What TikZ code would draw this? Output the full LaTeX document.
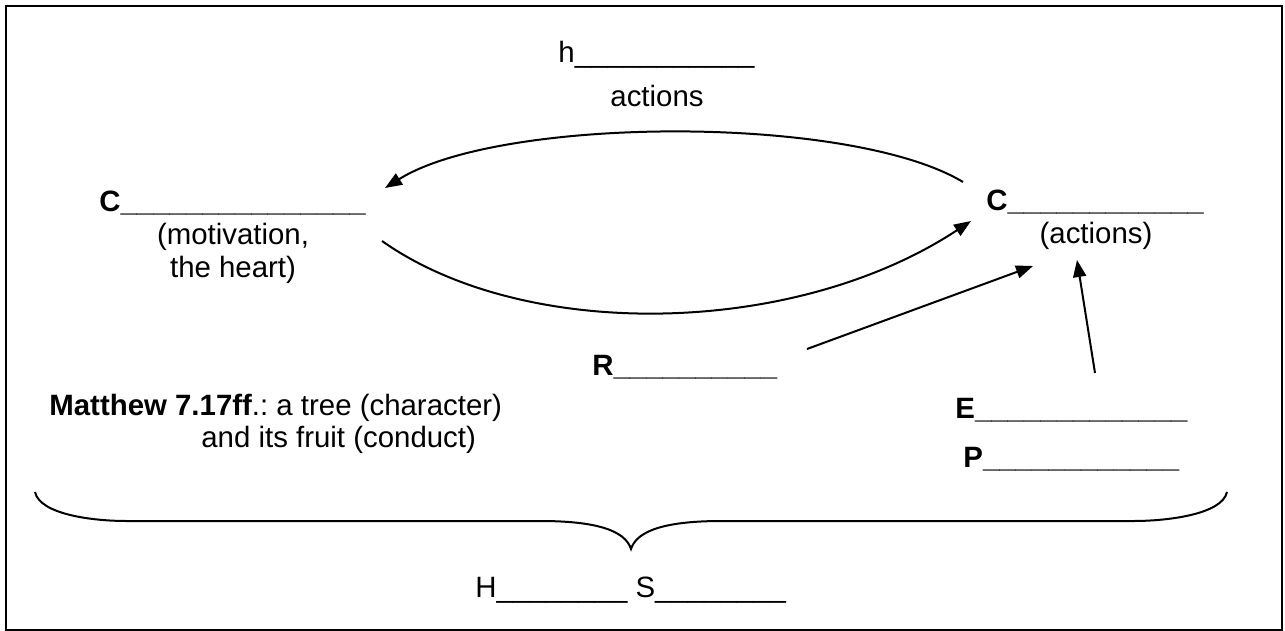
\documentclass[tikz,border=0pt]{standalone}
\usepackage{fontspec}
\setmainfont{Liberation Sans}
\usetikzlibrary{arrows.meta}
\frenchspacing
\newcommand{\blank}[1]{\foreach \k in {1,...,#1}{\_}}

\begin{document}
\begin{tikzpicture}[x=0.5pt, y=-0.5pt,
        every node/.style={font=\fontsize{14.7}{17}\selectfont, inner sep=0pt},
        lbl/.style={anchor=base west},
        mid/.style={anchor=base},
        conn/.style={line width=1pt, -{Triangle[length=8.5pt, width=6.5pt]}}]
        \useasboundingbox (0,0) rectangle (1285,631);
        \draw[line width=1pt, black] (6,6) rectangle (1282,630);

        % labels
        \node[lbl] (hact) at (558,63) {h\blank{11}};
        \node[mid] (act) at (657,107) {actions};
        \node[lbl] (cleft) at (99,211) {\textbf{C\blank{15}}};
        \node[mid] (mot) at (233,244) {(motivation,};
        \node[mid] (heart) at (233,277) {the heart)};
        \node[lbl] (cright) at (986,210) {\textbf{C\blank{12}}};
        \node[mid] (cact) at (1096,243) {(actions)};
        \node[lbl] (rline) at (592,375) {\textbf{R\blank{10}}};
        \node[lbl] (matt) at (49,415) {\textbf{Matthew 7.17ff}.: a tree (character)};
        \node[lbl] (fruit) at (201,447) {and its fruit (conduct)};
        \node[lbl] (eline) at (955,418) {\textbf{E\blank{13}}};
        \node[lbl] (pline) at (963,467) {\textbf{P\blank{12}}};
        \node[lbl] (hs) at (475,597) {H\blank{8} S\blank{8}};

        % arrow ends
        \coordinate (upS) at (963,182);
        \coordinate (upE) at (385,188);
        \coordinate (loS) at (382,241);
        \coordinate (loE) at (971,221);
        \coordinate (rS) at (807,349);
        \coordinate (rE) at (1033,266);
        \coordinate (eS) at (1095,373);
        \coordinate (eE) at (1077,260);

        \draw[conn] (upS) .. controls (850,114) and (500,116) .. (upE);
        \draw[conn] (loS) .. controls (525,342) and (795,337) .. (loE);
        \draw[conn] (rS) -- (rE);
        \draw[conn] (eS) -- (eE);

        % brace
        \draw[line width=1pt] (35,492) .. controls (40,515) and (95,521) .. (126,521)
            -- (540,521) .. controls (595,521) and (625,530) .. (631,549)
            .. controls (637,530) and (667,521) .. (722,521)
            -- (1134,521) .. controls (1165,521) and (1222,515) .. (1227,492);
    \end{tikzpicture}
\end{document}
